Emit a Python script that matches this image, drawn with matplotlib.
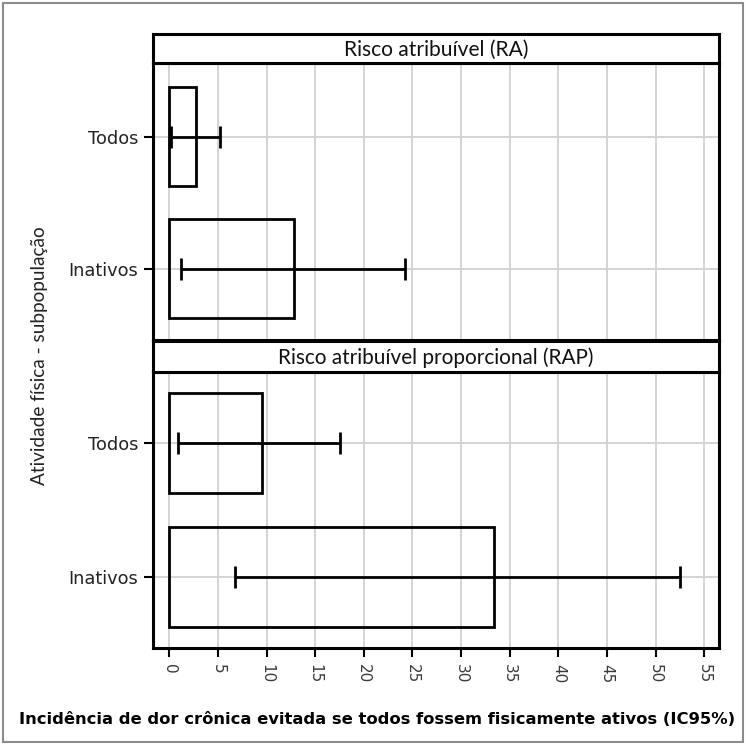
import matplotlib
matplotlib.use("Agg")
import matplotlib.pyplot as plt
from matplotlib.patches import Rectangle

categories = ["Todos", "Inativos"]
panel_titles = ["Risco atribuível (RA)", "Risco atribuível proporcional (RAP)"]
ra_values = [2.7, 12.8]
ra_low = [0.2, 1.2]
ra_high = [5.2, 24.2]
rap_values = [9.5, 33.4]
rap_low = [0.9, 6.8]
rap_high = [17.6, 52.5]
x_ticks = list(range(0, 60, 5))
xlabel = "Incidência de dor crônica evitada se todos fossem fisicamente ativos (IC95%)"
ylabel = "Atividade física - subpopulação"

W, H = 746, 744
fig = plt.figure(figsize=(W / 100, H / 100), dpi=100)
renderer = fig.canvas.get_renderer()


def fx(px):
    return px / W


def fy(py):
    return 1 - py / H


def fit_text(t, target_px, horizontal=True):
    bb = t.get_window_extent(renderer=renderer)
    size = bb.width if horizontal else bb.height
    t.set_fontsize(t.get_fontsize() * target_px / size)


# outer grey frame
fig.add_artist(Rectangle((fx(2.5), fy(741.5)), fx(742.5) - fx(2.5), fy(2.5) - fy(741.5),
                         transform=fig.transFigure, fill=False, edgecolor="#8c8c8c", lw=1.5))

left_px, right_px = 152.7, 719
# (strip top, panel top, panel bottom, ylim)
specs = [(34, 63, 340, (0.462, 2.56)), (341, 372, 648, (0.47, 2.53))]
data = [(ra_values, ra_low, ra_high), (rap_values, rap_low, rap_high)]
ypos = [2, 1]

for i, ((st, pt, pb, ylim), (vals, lo, hi)) in enumerate(zip(specs, data)):
    ax = fig.add_axes([fx(left_px), fy(pb), fx(right_px) - fx(left_px), fy(pt) - fy(pb)])
    ax.set_xlim(-1.7, 56.5)
    ax.set_ylim(*ylim)
    ax.set_xticks(x_ticks)
    ax.set_yticks(ypos)
    ax.set_yticklabels(categories)
    ax.grid(True, color="#d4d4d4", lw=1.4, zorder=0)
    ax.set_axisbelow(True)
    ax.barh(ypos, vals, height=0.75, fill=False, edgecolor="black", lw=2, zorder=2)
    xerr = [[v - l for v, l in zip(vals, lo)], [h - v for v, h in zip(vals, hi)]]
    ax.errorbar(vals, ypos, xerr=xerr, fmt="none", ecolor="black", elinewidth=2,
                capsize=8, capthick=2, zorder=3)
    for s in ax.spines.values():
        s.set_linewidth(2.2)
        s.set_color("black")
    ax.tick_params(axis="both", length=6.5, width=1.5, color="black")
    ax.tick_params(axis="y", labelsize=12.8, labelcolor="#222222", pad=4)
    for lab in ax.get_yticklabels():
        lab.set_fontfamily("DejaVu Sans")
    if i == 0:
        ax.tick_params(axis="x", labelbottom=False)
    else:
        ax.tick_params(axis="x", labelsize=11, labelcolor="#3a3a3a", labelrotation=270, pad=5)

    # strip
    sax = fig.add_axes([fx(left_px), fy(pt), fx(right_px) - fx(left_px), fy(st) - fy(pt)])
    sax.set_xticks([])
    sax.set_yticks([])
    sax.set_facecolor("white")
    for s in sax.spines.values():
        s.set_linewidth(2.2)
        s.set_color("black")
    t = sax.text(0.5, 0.47, panel_titles[i], ha="center", va="center", fontsize=11,
                 family="Lato", color="#111111", transform=sax.transAxes)
    fit_text(t, 184 if i == 0 else 314)

xl = fig.text(fx(377.5), fy(720), xlabel, ha="center", va="center", fontsize=10,
              fontweight="bold", family="DejaVu Sans", color="black")
fit_text(xl, 719)

yl = fig.text(fx(40), fy(355.5), ylabel, ha="center", va="center", rotation=90,
              fontsize=11, family="Lato", color="#222222")
fit_text(yl, 258, horizontal=False)

fig.savefig("out.png", dpi=100)
